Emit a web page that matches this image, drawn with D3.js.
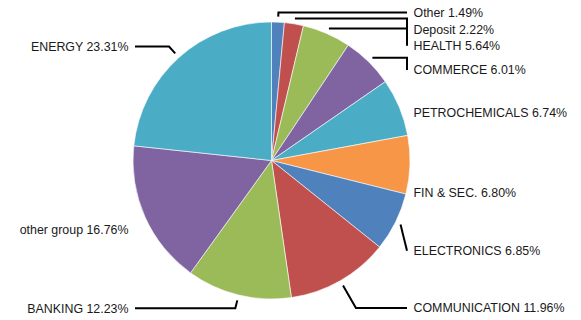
<!DOCTYPE html>
<html>
<head>
<meta charset="utf-8">
<script src="https://d3js.org/d3.v7.min.js"></script>
<style>
    body { margin: 0; background: #fff; }
    .label { font-family: "Liberation Sans", Arial, Helvetica, sans-serif; font-size: 12.4px; fill: #1a1a1a; }
</style>
</head>
<body>
<script>
//categories, clockwise from 12 o'clock
var categories = ["Other", "Deposit", "HEALTH", "COMMERCE", "PETROCHEMICALS", "FIN & SEC.",
    "ELECTRONICS", "COMMUNICATION", "BANKING", "other group", "ENERGY"];

//share of each category (%)
var shares = [1.49, 2.22, 5.64, 6.01, 6.74, 6.80, 6.85, 11.96, 12.23, 16.76, 23.31];

//slice colours (cycled)
var palette = ["#4f81bd", "#c0504d", "#9bbb59", "#8064a2", "#4bacc6", "#f79646"];

//vertical position of each label after spreading them out
var labelY = [12.5, 29.2, 45.8, 70, 113, 192.5, 250.7, 308, 308.3, 229.8, 46.5];

window.onload = function(){

    //SVG dimensions
    var w = 581,
        h = 320;

    var cx = 271.5,
        cy = 160.5,
        r = 138.5;

    //where leader lines end / labels start
    var rightEdge = 407,
        leftEdge = 135,
        textGap = 6.5;

    var svg = d3.select("body")
        .append("svg")
        .attr("width", w)
        .attr("height", h);

    var pie = d3.pie()
        .sort(null)
        .value(function(d){ return d; });

    var arcs = pie(shares);

    var arc = d3.arc()
        .innerRadius(0)
        .outerRadius(r);

    var g = svg.append("g")
        .attr("transform", "translate(" + cx + "," + cy + ")");

    //slices
    g.selectAll(".slice")
        .data(arcs)
        .enter()
        .append("path")
        .attr("class", "slice")
        .attr("d", arc)
        .style("fill", function(d, i){ return palette[i % palette.length]; })
        .style("stroke", "#fff")
        .style("stroke-width", 0.6);

    var format = d3.format(".2f");

    //label geometry for each slice
    var layout = arcs.map(function(d, i){
        var a = (d.startAngle + d.endAngle) / 2;
        var dx = Math.sin(a), dy = -Math.cos(a);
        var px = cx + (r + 5.5) * dx,
            py = cy + (r + 5.5) * dy;
        var right = dx >= 0;
        var edge = right ? rightEdge : leftEdge;
        var ly = labelY[i];
        var pts = [[px, py]];

        if ((ly - py) * dy > 0) {
            //follow the radius until label height, then go across
            var t = (ly - py) / dy;
            var qx = px + t * dx;
            if (right ? qx <= edge : qx >= edge) {
                pts.push([qx, ly]);
            }
            pts.push([edge, ly]);
        } else {
            //go across first, then to label height
            pts.push([edge, py]);
            pts.push([edge, ly]);
        }

        var inside = right ? px < edge : px > edge;
        var show = inside && (Math.abs(ly - py) > 12 || Math.abs(edge - px) > 20);

        return {
            name: categories[i],
            value: shares[i],
            right: right,
            edge: edge,
            y: ly,
            pts: pts,
            show: show
        };
    });

    //leader lines
    svg.selectAll(".leader")
        .data(layout.filter(function(d){ return d.show; }))
        .enter()
        .append("path")
        .attr("class", "leader")
        .attr("d", function(d){ return d3.line()(d.pts); })
        .style("fill", "none")
        .style("stroke", "#000")
        .style("stroke-width", 2);

    //labels
    svg.selectAll(".label")
        .data(layout)
        .enter()
        .append("text")
        .attr("class", "label")
        .attr("x", function(d){ return d.right ? d.edge + textGap : d.edge - textGap; })
        .attr("y", function(d){ return d.y; })
        .attr("dy", "0.35em")
        .attr("text-anchor", function(d){ return d.right ? "start" : "end"; })
        .text(function(d){ return d.name + " " + format(d.value) + "%"; });
};
</script>
</body>
</html>
